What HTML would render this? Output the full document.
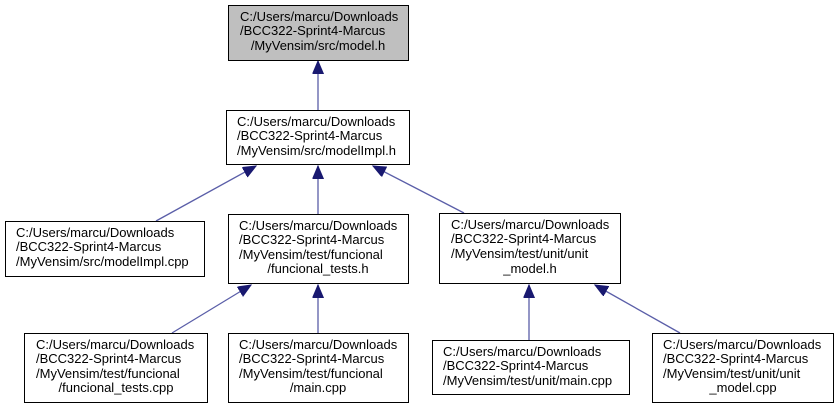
<!DOCTYPE html>
<html><head><meta charset="utf-8"><style>
html,body{margin:0;padding:0;background:#fff;}
svg text{font-family:"Liberation Sans",Arial,sans-serif;font-size:13px;fill:#000;}
</style></head><body>
<svg width="837" height="408" viewBox="0 0 837 408" xmlns="http://www.w3.org/2000/svg">
<defs>
<marker id="a" markerWidth="16" markerHeight="12" refX="13" refY="5.5" orient="auto" markerUnits="userSpaceOnUse">
<path d="M0,0 L13,5.5 L0,11 z" fill="#191970" stroke="#191970"/>
</marker>
</defs>
<g stroke="#5a5ea8" stroke-width="1.3" fill="none">
<line x1="318" y1="110" x2="318" y2="61" marker-end="url(#a)"/>
<line x1="156" y1="221" x2="256" y2="166" marker-end="url(#a)"/>
<line x1="318" y1="214" x2="318" y2="166" marker-end="url(#a)"/>
<line x1="464" y1="213" x2="373" y2="166" marker-end="url(#a)"/>
<line x1="172" y1="333" x2="251" y2="285" marker-end="url(#a)"/>
<line x1="318" y1="333" x2="318" y2="285" marker-end="url(#a)"/>
<line x1="529" y1="340" x2="529" y2="285" marker-end="url(#a)"/>
<line x1="680" y1="333" x2="595" y2="285" marker-end="url(#a)"/>
</g>
<g stroke="#000" stroke-width="1">
<rect x="228.5" y="5.5" width="180" height="55" fill="#bfbfbf"/>
<rect x="226.5" y="110.5" width="183" height="54" fill="#fff"/>
<rect x="5.5" y="221.5" width="199" height="55" fill="#fff"/>
<rect x="228.5" y="214.5" width="180" height="69" fill="#fff"/>
<rect x="439.5" y="213.5" width="181" height="70" fill="#fff"/>
<rect x="24.5" y="333.5" width="183" height="69" fill="#fff"/>
<rect x="228.5" y="333.5" width="180" height="69" fill="#fff"/>
<rect x="432.5" y="340.5" width="197" height="54" fill="#fff"/>
<rect x="652.5" y="333.5" width="181" height="69" fill="#fff"/>
</g>
<g>
<text x="240" y="21">C:/Users/marcu/Downloads</text>
<text x="240" y="35">/BCC322-Sprint4-Marcus</text>
<text x="318" y="50" text-anchor="middle">/MyVensim/src/model.h</text>

<text x="237" y="126">C:/Users/marcu/Downloads</text>
<text x="237" y="140">/BCC322-Sprint4-Marcus</text>
<text x="237" y="155">/MyVensim/src/modelImpl.h</text>

<text x="16" y="237">C:/Users/marcu/Downloads</text>
<text x="16" y="251">/BCC322-Sprint4-Marcus</text>
<text x="16" y="266">/MyVensim/src/modelImpl.cpp</text>

<text x="239" y="230">C:/Users/marcu/Downloads</text>
<text x="239" y="244">/BCC322-Sprint4-Marcus</text>
<text x="239" y="259">/MyVensim/test/funcional</text>
<text x="318" y="273" text-anchor="middle">/funcional_tests.h</text>

<text x="451" y="229">C:/Users/marcu/Downloads</text>
<text x="451" y="243">/BCC322-Sprint4-Marcus</text>
<text x="451" y="258">/MyVensim/test/unit/unit</text>
<text x="530" y="273" text-anchor="middle">_model.h</text>

<text x="36" y="349">C:/Users/marcu/Downloads</text>
<text x="36" y="363">/BCC322-Sprint4-Marcus</text>
<text x="36" y="378">/MyVensim/test/funcional</text>
<text x="116" y="392" text-anchor="middle">/funcional_tests.cpp</text>

<text x="239" y="349">C:/Users/marcu/Downloads</text>
<text x="239" y="363">/BCC322-Sprint4-Marcus</text>
<text x="239" y="378">/MyVensim/test/funcional</text>
<text x="318" y="392" text-anchor="middle">/main.cpp</text>

<text x="443" y="356">C:/Users/marcu/Downloads</text>
<text x="443" y="370">/BCC322-Sprint4-Marcus</text>
<text x="443" y="385">/MyVensim/test/unit/main.cpp</text>

<text x="663" y="349">C:/Users/marcu/Downloads</text>
<text x="663" y="363">/BCC322-Sprint4-Marcus</text>
<text x="663" y="378">/MyVensim/test/unit/unit</text>
<text x="743" y="392" text-anchor="middle">_model.cpp</text>
</g>
</svg>
</body></html>
